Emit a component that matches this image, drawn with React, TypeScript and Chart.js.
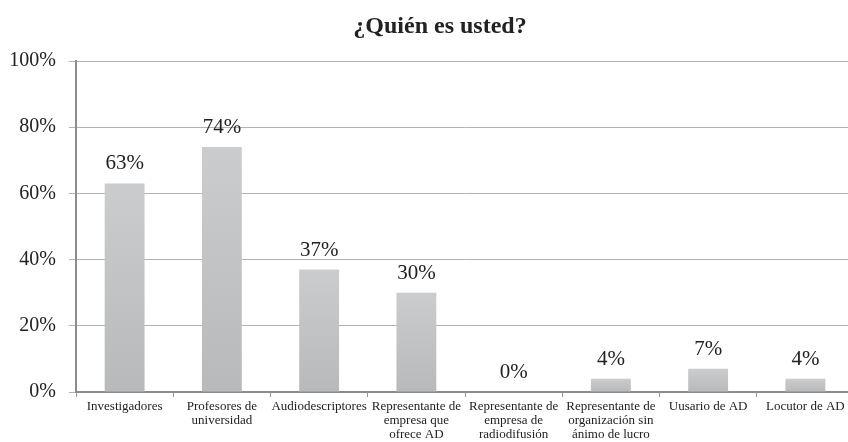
import React, { useEffect, useRef } from "react";
import { Chart, registerables } from "chart.js";

Chart.register(...registerables);

const categories: (string | string[])[] = [
  "Investigadores",
  ["Profesores de", "universidad"],
  "Audiodescriptores",
  ["Representante de", "empresa que", "ofrece AD"],
  ["Representante de", "empresa de", "radiodifusión"],
  ["Representante de", "organización sin", "ánimo de lucro"],
  "Uusario de AD",
  "Locutor de AD",
];
const values: number[] = [63, 74, 37, 30, 0, 4, 7, 4];
const yTicks: number[] = [0, 20, 40, 60, 80, 100];
const titleText = "¿Quién es usted?";

const FONT = "'Liberation Serif', 'Times New Roman', serif";

const barFill = (c: any) => {
  const chart = c.chart;
  const y = chart.scales?.y;
  if (!y || c.type !== "data") return "#c2c3c5";
  const v = values[c.dataIndex];
  const top = y.getPixelForValue(v);
  const bot = y.getPixelForValue(0);
  if (!isFinite(top) || !isFinite(bot) || bot - top < 1) return "#c2c3c5";
  const g = chart.ctx.createLinearGradient(0, top, 0, bot);
  g.addColorStop(0, "#cbcccd");
  g.addColorStop(1, "#b8b9bb");
  return g;
};

const titlePlugin = {
  id: "customTitle",
  afterDraw(chart: any) {
    const ctx = chart.ctx;
    ctx.save();
    ctx.font = `bold 24px ${FONT}`;
    ctx.fillStyle = "#222222";
    ctx.textAlign = "center";
    ctx.textBaseline = "alphabetic";
    ctx.fillText(titleText, chart.width / 2, 33);
    ctx.restore();
  },
};

const labelPlugin = {
  id: "valueLabels",
  afterDatasetsDraw(chart: any) {
    const ctx = chart.ctx;
    const meta = chart.getDatasetMeta(0);
    ctx.save();
    ctx.font = `21px ${FONT}`;
    ctx.fillStyle = "#222222";
    ctx.textAlign = "center";
    ctx.textBaseline = "alphabetic";
    meta.data.forEach((el: any, idx: number) => {
      ctx.fillText(`${values[idx]}%`, el.x, el.y - 14);
    });
    ctx.restore();
  },
};

export default function App() {
  const ref = useRef<HTMLCanvasElement | null>(null);
  useEffect(() => {
    if (!ref.current) return;
    const chart = new Chart(ref.current, {
      type: "bar",
      data: {
        labels: categories,
        datasets: [
          {
            data: values,
            backgroundColor: barFill,
            borderWidth: 0,
            barPercentage: 0.41,
            categoryPercentage: 1,
          },
        ],
      },
      options: {
        animation: false,
        responsive: false,
        maintainAspectRatio: false,
        layout: { padding: { left: 0, right: 26, top: 61, bottom: 0 } },
        plugins: {
          legend: { display: false },
          tooltip: { enabled: false },
          title: { display: false },
        },
        scales: {
          x: {
            grid: {
              display: true,
              offset: true,
              drawOnChartArea: false,
              drawTicks: true,
              tickLength: 5,
              color: "#999999",
            },
            border: { display: true, color: "#8c8c8c", width: 2 },
            ticks: {
              autoSkip: false,
              maxRotation: 0,
              minRotation: 0,
              color: "#222222",
              font: { family: FONT, size: 13, lineHeight: 14 / 13 },
              padding: 3,
            },
            afterFit: (s: any) => {
              s.height = 50;
            },
          },
          y: {
            min: 0,
            max: 100,
            afterBuildTicks: (s: any) => {
              s.ticks = yTicks.map((v) => ({ value: v }));
            },
            grid: {
              color: "#b2b2b2",
              lineWidth: 1,
              tickLength: 7,
              drawTicks: true,
            },
            border: { display: true, color: "#8c8c8c", width: 2 },
            ticks: {
              color: "#222222",
              font: { family: FONT, size: 20 },
              padding: 13,
              callback: (v: any) => `${v}%`,
            },
            afterFit: (s: any) => {
              s.width = 76;
            },
          },
        },
      },
      plugins: [labelPlugin, titlePlugin],
    });
    return () => chart.destroy();
  }, []);
  return (
    <div
      style={{
        position: "fixed",
        left: 0,
        top: 0,
        width: 848,
        height: 442,
        overflow: "hidden",
        background: "#ffffff",
      }}
    >
      <canvas ref={ref} width={880} height={442} style={{ display: "block" }} />
    </div>
  );
}
